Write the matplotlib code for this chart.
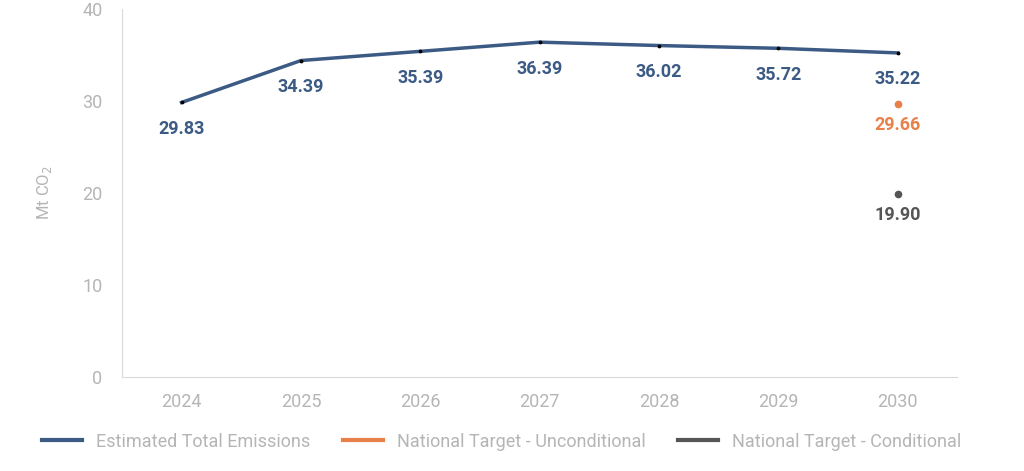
import numpy as np
import matplotlib.pyplot as plt

plt.rcParams['font.family'] = ['Roboto', 'DejaVu Sans']

years = ['2024', '2025', '2026', '2027', '2028', '2029', '2030']
emissions = [29.83, 34.39, 35.39, 36.39, 36.02, 35.72, 35.22]
target_uncond = 29.66
target_cond = 19.90

BLUE = '#3b5a84'
ORANGE = '#e8804a'
DARK = '#555555'
GREY = '#b5b5b5'

fig = plt.figure(figsize=(10.24, 4.71), dpi=100)
ax = fig.add_axes([0.119, 0.2, 0.816, 0.781])

x = np.arange(len(years))
ax.plot(x, emissions, color=BLUE, lw=2.5, label='Estimated Total Emissions', zorder=2)
ax.scatter(x, emissions, color='black', s=3, zorder=3)
ax.plot([x[-1]], [target_uncond], 'o', color=ORANGE, ms=4.5, zorder=3)
ax.plot([x[-1]], [target_cond], 'o', color=DARK, ms=4.5, zorder=3)

for xi, v in zip(x, emissions):
    ax.annotate(f'{v:.2f}', (xi, v), xytext=(0, -19), textcoords='offset points',
                ha='center', va='center', color=BLUE, fontsize=13, fontweight='bold')
ax.annotate(f'{target_uncond:.2f}', (x[-1], target_uncond), xytext=(0, -15),
            textcoords='offset points', ha='center', va='center', color=ORANGE,
            fontsize=13, fontweight='bold')
ax.annotate(f'{target_cond:.2f}', (x[-1], target_cond), xytext=(0, -15),
            textcoords='offset points', ha='center', va='center', color=DARK,
            fontsize=13, fontweight='bold')

ax.set_xlim(-0.5, 6.5)
ax.set_ylim(0, 40)
ax.set_xticks(x)
ax.set_xticklabels(years)
ax.set_yticks([0, 10, 20, 30, 40])
ax.tick_params(length=0, colors=GREY, labelsize=13)
ax.tick_params(axis='x', pad=12)
ax.tick_params(axis='y', pad=14)
for s in ['top', 'right']:
    ax.spines[s].set_visible(False)
for s in ['left', 'bottom']:
    ax.spines[s].set_color('#d9d9d9')
ax.set_ylabel('Mt CO$_2$', color=GREY, fontsize=12, labelpad=20)

handles = [
    plt.Line2D([], [], color=BLUE, lw=3),
    plt.Line2D([], [], color=ORANGE, lw=3),
    plt.Line2D([], [], color=DARK, lw=3),
]
labels = ['Estimated Total Emissions', 'National Target - Unconditional',
          'National Target - Conditional']
leg = fig.legend(handles, labels, loc='center', bbox_to_anchor=(0.49, 0.062), ncol=3,
                 frameon=False, fontsize=13, handlelength=2.2, columnspacing=1.8)
for t in leg.get_texts():
    t.set_color(GREY)

fig.savefig('out.png', dpi=100)
